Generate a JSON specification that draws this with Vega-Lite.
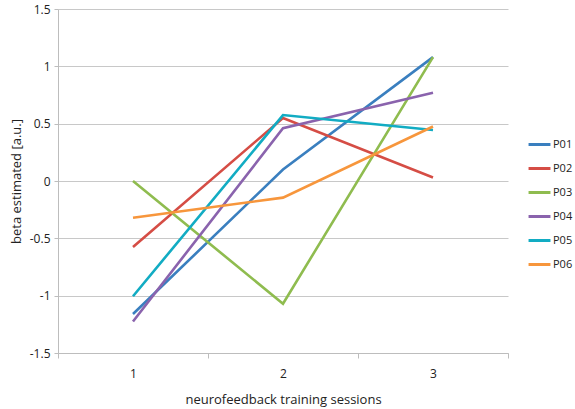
{
  "$schema": "https://vega.github.io/schema/vega-lite/v6.json",
  "width": 450,
  "height": 344,
  "autosize": {"type": "none"},
  "padding": {"left": 58, "top": 9, "right": 67, "bottom": 56},
  "background": "white",
  "config": {
    "view": {"stroke": null},
    "font": "Open Sans",
    "axis": {"labelFont": "Open Sans", "titleFont": "Open Sans", "labelColor": "#222", "titleColor": "#222", "titleFontWeight": "normal", "domainColor": "#bdbdbd", "tickColor": "#bdbdbd", "gridColor": "#c8c8c8"}
  },
  "data": {
    "values": [
      {"session": "1", "participant": "P01", "beta": -1.16},
      {"session": "2", "participant": "P01", "beta": 0.1},
      {"session": "3", "participant": "P01", "beta": 1.08},
      {"session": "1", "participant": "P02", "beta": -0.575},
      {"session": "2", "participant": "P02", "beta": 0.55},
      {"session": "3", "participant": "P02", "beta": 0.03},
      {"session": "1", "participant": "P03", "beta": 0.0},
      {"session": "2", "participant": "P03", "beta": -1.07},
      {"session": "3", "participant": "P03", "beta": 1.08},
      {"session": "1", "participant": "P04", "beta": -1.225},
      {"session": "2", "participant": "P04", "beta": 0.46},
      {"session": "3", "participant": "P04", "beta": 0.77},
      {"session": "1", "participant": "P05", "beta": -1.005},
      {"session": "2", "participant": "P05", "beta": 0.575},
      {"session": "3", "participant": "P05", "beta": 0.445},
      {"session": "1", "participant": "P06", "beta": -0.32},
      {"session": "2", "participant": "P06", "beta": -0.145},
      {"session": "3", "participant": "P06", "beta": 0.475}
    ]
  },
  "mark": {"type": "line", "strokeWidth": 2.6},
  "encoding": {
    "x": {
      "field": "session",
      "type": "ordinal",
      "scale": {"type": "band", "paddingInner": 0, "paddingOuter": 0},
      "axis": {"title": "neurofeedback training sessions", "labelAngle": 0, "tickBand": "extent", "labelFontSize": 12, "titleFontSize": 13, "labelPadding": 10, "titlePadding": 14, "tickSize": 5, "labelFontWeight": "normal"}
    },
    "y": {
      "field": "beta",
      "type": "quantitative",
      "scale": {"domain": [-1.5, 1.5], "nice": false},
      "axis": {"title": "beta estimated [a.u.]", "values": [-1.5, -1, -0.5, 0, 0.5, 1, 1.5], "format": "~g", "labelExpr": "replace(datum.label, '\u2212', '-')", "labelFontSize": 12, "titleFontSize": 13, "tickSize": 4, "labelPadding": 4, "titlePadding": 6}
    },
    "color": {
      "field": "participant",
      "type": "nominal",
      "scale": {"domain": ["P01", "P02", "P03", "P04", "P05", "P06"], "range": ["#3a7fbf", "#d54d45", "#8fbc4f", "#8a63ad", "#12acc3", "#f7963c"]},
      "legend": {"title": null, "orient": "none", "legendX": 469, "legendY": 123, "symbolType": "stroke", "symbolSize": 480, "symbolStrokeWidth": 3, "labelFontSize": 11, "labelFont": "Open Sans", "labelColor": "#222", "rowPadding": 5, "labelOffset": 1}
    }
  }
}
